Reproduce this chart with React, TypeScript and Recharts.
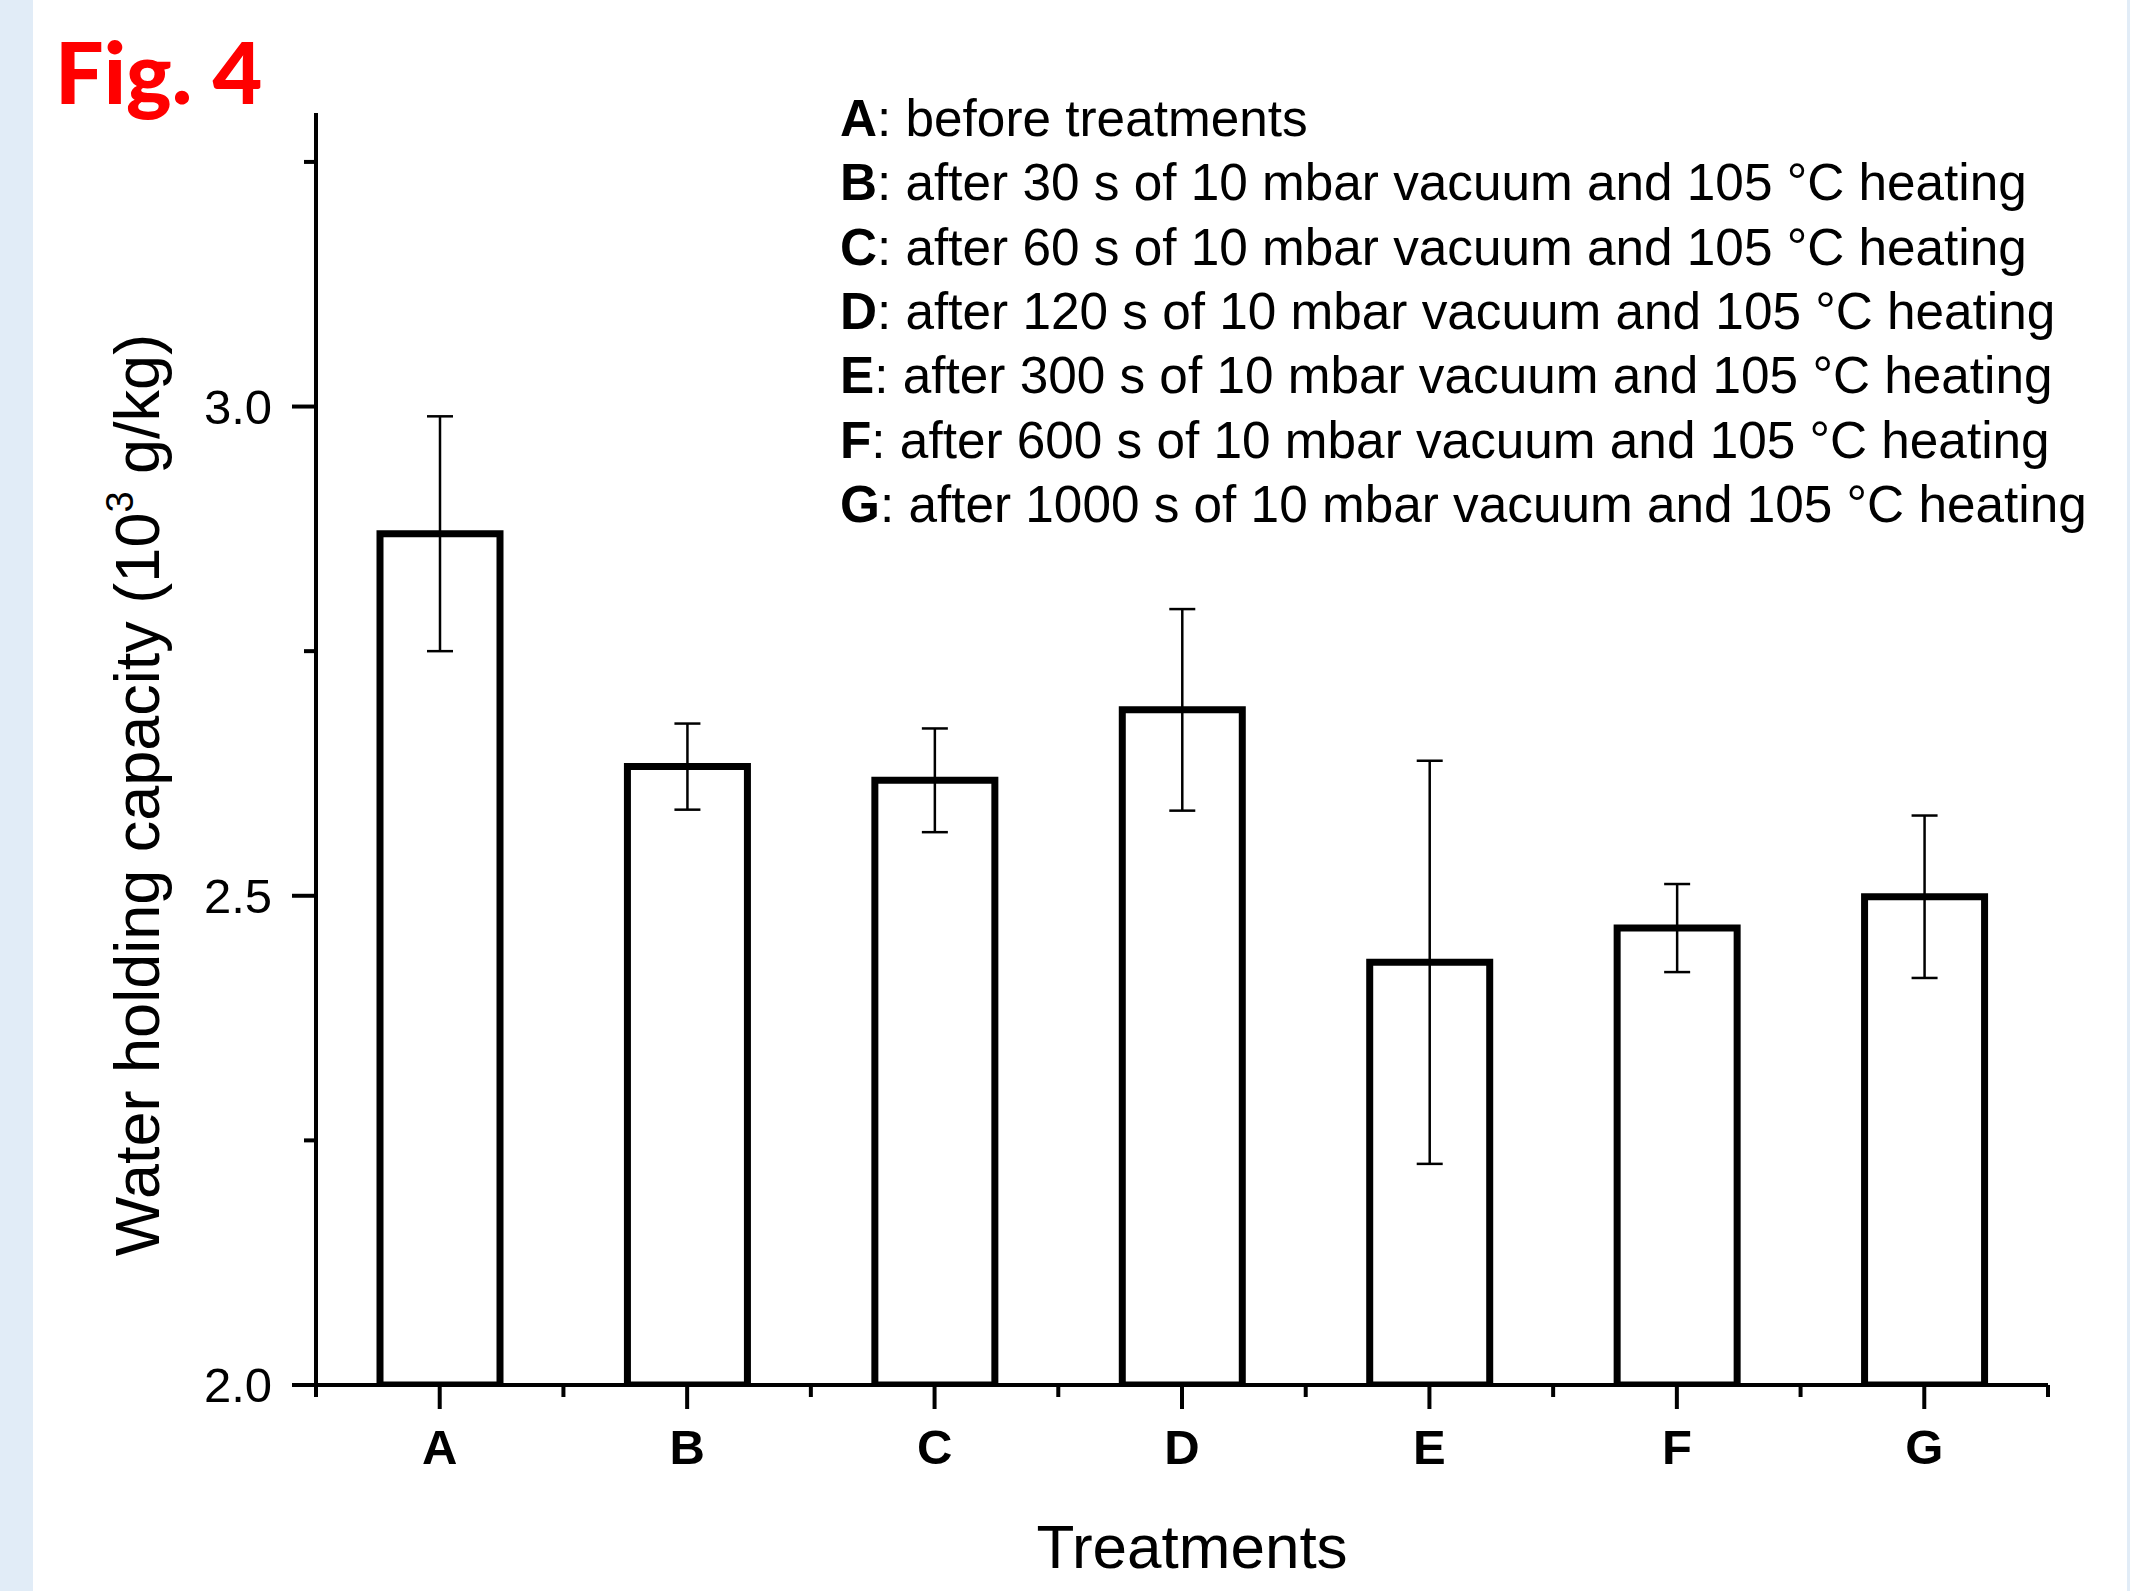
import { BarChart, Bar, XAxis, YAxis, ErrorBar } from 'recharts';

const categories = ['A', 'B', 'C', 'D', 'E', 'F', 'G'];
const capacity = [2.87, 2.632, 2.618, 2.69, 2.432, 2.467, 2.499];
const capacityError = [0.12, 0.044, 0.053, 0.103, 0.206, 0.045, 0.083];
const yTicks = [2.0, 2.25, 2.5, 2.75, 3.0, 3.25];
const yMajorTicks = [2.0, 2.5, 3.0];
const treatmentNotes = [
  'before treatments',
  'after 30 s of 10 mbar vacuum and 105 °C heating',
  'after 60 s of 10 mbar vacuum and 105 °C heating',
  'after 120 s of 10 mbar vacuum and 105 °C heating',
  'after 300 s of 10 mbar vacuum and 105 °C heating',
  'after 600 s of 10 mbar vacuum and 105 °C heating',
  'after 1000 s of 10 mbar vacuum and 105 °C heating',
];

const data = categories.map((name, i) => ({
  name,
  value: capacity[i],
  err: capacityError[i],
}));

const FONT = '"Liberation Sans", Arial, Helvetica, sans-serif';
const TICK_SIZE = 24;
const TICK_MARGIN = 20;
const MINOR = 12;

function YTick(props: any) {
  const { x, y, payload } = props;
  const axisX = x + TICK_SIZE + TICK_MARGIN;
  const major = yMajorTicks.includes(payload.value);
  return (
    <g>
      <line x1={axisX} x2={axisX - (major ? TICK_SIZE : MINOR)} y1={y} y2={y} stroke="#000" strokeWidth={4} />
      {major && (
        <text x={x} y={y} dy="0.355em" textAnchor="end" fontSize={49} fontFamily={FONT} fill="#000">
          {payload.value.toFixed(1)}
        </text>
      )}
    </g>
  );
}

function XTick(props: any) {
  const { x, y, payload, index, visibleTicksCount } = props;
  const axisY = y - TICK_SIZE - TICK_MARGIN;
  const half = payload.offset || 123.7;
  const isLast = index === visibleTicksCount - 1;
  return (
    <g>
      <line x1={x} x2={x} y1={axisY} y2={axisY + TICK_SIZE} stroke="#000" strokeWidth={4} />
      <line x1={x - half} x2={x - half} y1={axisY} y2={axisY + MINOR} stroke="#000" strokeWidth={4} />
      {isLast && (
        <line x1={x + half} x2={x + half} y1={axisY} y2={axisY + MINOR} stroke="#000" strokeWidth={4} />
      )}
      <text x={x} y={y} dy="0.71em" textAnchor="middle" fontSize={49} fontWeight="bold" fontFamily={FONT} fill="#000">
        {payload.value}
      </text>
    </g>
  );
}

export default function App() {
  return (
    <div style={{ position: 'absolute', left: 0, top: 0, width: 2130, height: 1591, background: '#fff', overflow: 'hidden' }}>
      <div style={{ position: 'absolute', left: 0, top: 0, width: 33, height: 1591, background: '#e1ecf7' }} />
      <div style={{ position: 'absolute', right: 0, top: 0, width: 3, height: 1591, background: '#e1ecf7' }} />
      <BarChart
        width={2130}
        height={1591}
        data={data}
        margin={{ top: 113, right: 82, left: 196, bottom: 106 }}
        barSize={120}
        style={{ position: 'absolute', left: 0, top: 0 }}
      >
        <XAxis
          dataKey="name"
          height={100}
          axisLine={{ stroke: '#000', strokeWidth: 4 }}
          tickLine={false}
          tickSize={TICK_SIZE}
          tickMargin={TICK_MARGIN}
          tick={<XTick />}
          interval={0}
          label={{
            value: 'Treatments',
            position: 'bottom',
            offset: 39,
            dx: 10,
            fontSize: 62,
            fontFamily: FONT,
            fill: '#000',
          }}
        />
        <YAxis
          width={120}
          domain={[2, 3.3]}
          ticks={yTicks}
          allowDataOverflow
          axisLine={{ stroke: '#000', strokeWidth: 4 }}
          tickLine={false}
          tickSize={TICK_SIZE}
          tickMargin={TICK_MARGIN}
          tick={<YTick />}
          interval={0}
        />
        <Bar dataKey="value" fill="#fff" stroke="#000" strokeWidth={7} isAnimationActive={false}>
          <ErrorBar dataKey="err" width={13} strokeWidth={2.5} stroke="#000" direction="y" />
        </Bar>
      </BarChart>
      <svg width={2130} height={1591} style={{ position: 'absolute', left: 0, top: 0, pointerEvents: 'none' }}>
        <text x={55} y={104} fontSize={86} fontWeight={900} fontFamily="Lato, 'Open Sans', sans-serif" fill="#ff0000">
          Fig. 4
        </text>
        <text
          transform="translate(159, 795) rotate(-90)"
          textAnchor="middle"
          fontSize={63}
          fontFamily={FONT}
          fill="#000"
        >
          Water holding capacity (10
          <tspan fontSize={38} dy={-26}>3</tspan>
          <tspan dy={26}> g/kg)</tspan>
        </text>
        {treatmentNotes.map((note, i) => (
          <text key={categories[i]} x={840} y={136 + i * 64.3} fontSize={51.3} fontFamily={FONT} fill="#000">
            <tspan fontWeight="bold">{categories[i]}</tspan>: {note}
          </text>
        ))}
      </svg>
    </div>
  );
}
